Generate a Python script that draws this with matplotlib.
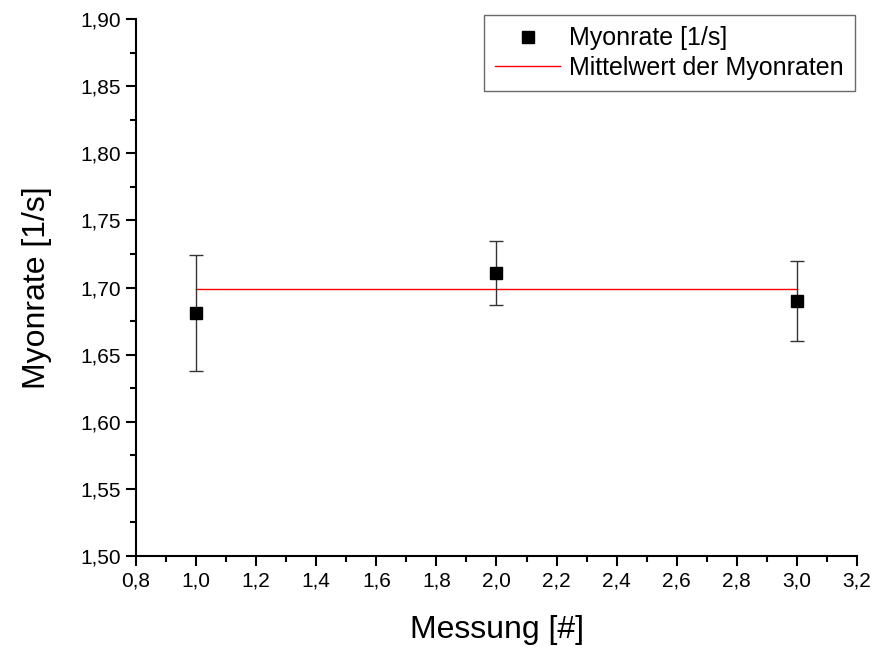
import matplotlib
matplotlib.use("Agg")
import matplotlib.pyplot as plt
from matplotlib.lines import Line2D
from matplotlib.ticker import FuncFormatter, MultipleLocator

# Messdaten
messung = [1.0, 2.0, 3.0]
myonrate = [1.681, 1.711, 1.690]
fehler = [0.043, 0.024, 0.030]
mittelwert = 1.699

plt.rcParams["font.family"] = ["Liberation Sans", "DejaVu Sans"]

fig = plt.figure(figsize=(8.74, 6.46), dpi=100)
ax = fig.add_axes([136 / 874, 1 - 556 / 646, (857 - 136) / 874, (556 - 19) / 646])

ax.plot([messung[0], messung[-1]], [mittelwert, mittelwert], color="#ff0000", lw=1.0)
ax.errorbar(messung, myonrate, yerr=fehler, fmt="s", color="black", ms=8,
            ecolor="#333333", elinewidth=1, capsize=5, capthick=1)

ax.set_xlim(0.8, 3.2)
ax.set_ylim(1.50, 1.90)
ax.xaxis.set_major_locator(MultipleLocator(0.2))
ax.xaxis.set_minor_locator(MultipleLocator(0.1))
ax.yaxis.set_major_locator(MultipleLocator(0.05))
ax.yaxis.set_minor_locator(MultipleLocator(0.025))
ax.xaxis.set_major_formatter(FuncFormatter(lambda v, p: f"{v:.1f}".replace(".", ",")))
ax.yaxis.set_major_formatter(FuncFormatter(lambda v, p: f"{v:.2f}".replace(".", ",")))

for s in ["top", "right"]:
    ax.spines[s].set_visible(False)
for s in ["left", "bottom"]:
    ax.spines[s].set_linewidth(1.5)
ax.tick_params(which="major", direction="out", length=7, width=1.5, labelsize=15, pad=4)
ax.tick_params(which="minor", direction="out", length=4, width=1.5)

ax.set_xlabel("Messung [#]", fontsize=23, labelpad=18)
ax.set_ylabel("Myonrate [1/s]", fontsize=23, labelpad=20)

handles = [
    Line2D([], [], ls="none", marker="s", color="black", ms=8),
    Line2D([], [], color="#ff0000", lw=1.0),
]
labels = ["Myonrate [1/s]", "Mittelwert der Myonraten"]
leg = fig.legend(handles, labels, loc="upper right", fontsize=18,
                 frameon=True, fancybox=False, edgecolor="#444444",
                 borderpad=0.45, handlelength=2.6, handletextpad=0.35,
                 labelspacing=0.22, borderaxespad=0,
                 bbox_to_anchor=(855 / 874, 1 - 15 / 646))
leg.get_frame().set_linewidth(1.0)

fig.savefig("out.png", dpi=100)
